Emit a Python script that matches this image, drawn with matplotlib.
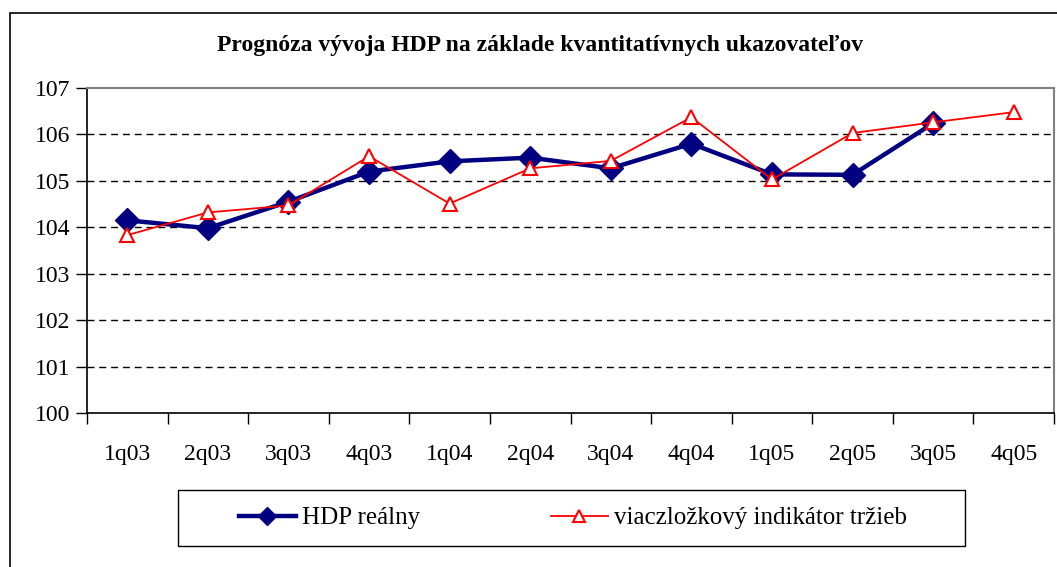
import matplotlib
matplotlib.use("Agg")
import matplotlib.pyplot as plt
from matplotlib.patches import Rectangle

categories = ["1q03", "2q03", "3q03", "4q03", "1q04", "2q04", "3q04", "4q04",
              "1q05", "2q05", "3q05", "4q05"]
hdp_realny = [104.15, 103.98, 104.55, 105.2, 105.42, 105.5, 105.27, 105.8,
              105.14, 105.13, 106.24]
indikator = [103.83, 104.32, 104.47, 105.53, 104.51, 105.27, 105.43, 106.37,
             105.03, 106.03, 106.26, 106.48]
title = "Prognóza vývoja HDP na základe kvantitatívnych ukazovateľov"
series_names = ["HDP reálny", "viaczložkový indikátor tržieb"]

W, H = 1057, 567
fig = plt.figure(figsize=(W / 100, H / 100), dpi=100)
plt.rcParams['font.family'] = ['Liberation Serif', 'DejaVu Serif']

# outer border
fig.patches.append(Rectangle((10 / W, -0.1), 1.2, 1 - 13 / H + 0.1,
                             transform=fig.transFigure, fill=False,
                             edgecolor="black", linewidth=1.2, zorder=0))

ax = fig.add_axes([87 / W, 1 - 413 / H, (1054 - 87) / W, (413 - 88) / H])
x = list(range(len(categories)))

ax.plot(x[:len(hdp_realny)], hdp_realny, color="#000080", linewidth=3.2,
        marker="D", markersize=12, markerfacecolor="#000080",
        markeredgecolor="#000080", label=series_names[0], zorder=3)
ax.plot(x, indikator, color="red", linewidth=1.3, marker="^", markersize=10,
        markerfacecolor="white", markeredgecolor="red", markeredgewidth=1.5,
        label=series_names[1], zorder=4)

ax.set_xlim(-0.5, len(categories) - 0.5)
ax.set_ylim(100, 107)
ax.set_yticks(range(100, 108))
ax.set_yticklabels([str(v) for v in range(100, 108)], fontsize=17)
ax.set_xticks(x)
ax.set_xticklabels(categories, fontsize=17)
ax.tick_params(axis="x", which="major", length=0, pad=22)
ax.set_xticks([i - 0.5 for i in range(len(categories) + 1)], minor=True)
ax.tick_params(axis="x", which="minor", length=8, width=1, direction="out")
ax.tick_params(axis="y", length=8, width=1, direction="out", pad=4)

for v in range(101, 107):
    ax.axhline(v, color="black", linestyle=(0, (5, 3.5)), linewidth=1.0, zorder=1)

for s in ["top", "right"]:
    ax.spines[s].set_color("#808080")
    ax.spines[s].set_linewidth(1.5)
for s in ["left", "bottom"]:
    ax.spines[s].set_color("black")
    ax.spines[s].set_linewidth(1.2)

fig.text(540 / W, 1 - 46 / H, title, ha="center",
         va="center", fontsize=17, fontweight="bold")

# legend box
fig.patches.append(Rectangle((178 / W, 1 - 546 / H), (965 - 178) / W, (546 - 490) / H,
                             transform=fig.transFigure, fill=False,
                             edgecolor="black", linewidth=1.0))
leg = fig.legend(loc="center", bbox_to_anchor=(573 / W, 1 - 518 / H),
                 ncol=2, fontsize=18, frameon=False, markerscale=0.8,
                 handlelength=2.3, columnspacing=5.2,
                 borderpad=0.0, handletextpad=0.25)

fig.savefig("out.png", dpi=100)
